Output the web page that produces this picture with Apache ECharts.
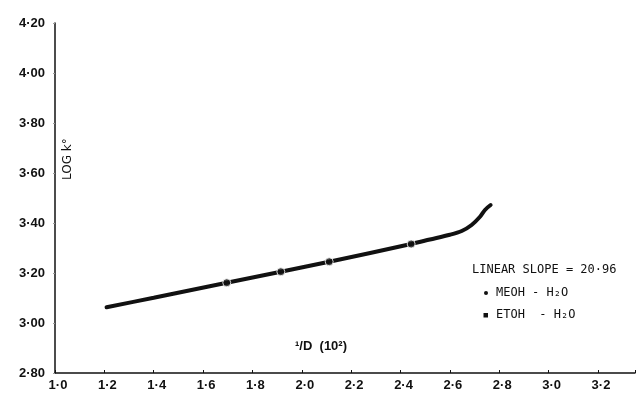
<!DOCTYPE html>
<html>
<head>
<meta charset="utf-8">
<script src="https://cdn.jsdelivr.net/npm/echarts@6/dist/echarts.min.js"></script>
<style>
html,body{margin:0;padding:0;background:#fff;}
#chart{width:638px;height:396px;}
</style>
</head>
<body>
<div id="chart"></div>
<script>
// Tick labels
var xTickLabels = ['1·0','1·2','1·4','1·6','1·8','2·0','2·2','2·4','2·6','2·8','3·0','3·2'];
var yTickLabels = ['2·80','3·00','3·20','3·40','3·60','3·80','4·00','4·20'];
// Curve (1/D x10^2 vs log k)
var curveX = [1.209, 1.40, 1.696, 1.915, 2.111, 2.443, 2.519, 2.600, 2.648, 2.688, 2.722, 2.742, 2.765];
var curveY = [3.063, 3.101, 3.161, 3.205, 3.245, 3.316, 3.334, 3.353, 3.368, 3.392, 3.425, 3.452, 3.472];
// Plotted experimental points
var pointX = [1.696, 1.915, 2.111, 2.443];
var pointY = [3.161, 3.205, 3.245, 3.316];
// Texts
var xName = '¹/D  (10²)';
var yName = 'LOG k°';
var slopeText = 'LINEAR SLOPE = 20·96';
var legendNames = ['MEOH - H₂O', 'ETOH  - H₂O'];

function pairs(xs, ys){ var out=[]; for (var i=0;i<xs.length;i++) out.push([xs[i], ys[i]]); return out; }
function lab(arr, start, step){
  return function(v){
    var idx = Math.round((v - start) / step);
    if (Math.abs(v - (start + idx*step)) < 1e-6 && idx >= 0 && idx < arr.length) return arr[idx];
    return '';
  };
}

var chart = echarts.init(document.getElementById('chart'), null, {renderer:'canvas'});
var font = 'Liberation Sans';
chart.setOption({
  animation:false,
  backgroundColor:'#fff',
  grid:{left:55, right:3, top:23, bottom:23, containLabel:false},
  xAxis:{
    type:'value', min:1.0, max:3.35, interval:0.2,
    axisLine:{show:true, lineStyle:{color:'#111', width:1.5}},
    axisTick:{show:true, inside:true, length:3, lineStyle:{color:'#111', width:1}},
    splitLine:{show:false},
    axisLabel:{formatter:lab(xTickLabels, 1.0, 0.2), color:'#111', fontFamily:font, fontWeight:'bold', fontSize:13, margin:6, padding:[0,0,0,6]}
  },
  yAxis:{
    type:'value', min:2.8, max:4.2, interval:0.2,
    axisLine:{show:true, lineStyle:{color:'#111', width:1.5}},
    axisTick:{show:true, inside:false, length:2, lineStyle:{color:'#999', width:1}},
    splitLine:{show:false},
    axisLabel:{formatter:lab(yTickLabels, 2.8, 0.2), color:'#111', fontFamily:font, fontWeight:'bold', fontSize:13, margin:10}
  },
  series:[
    {type:'line', data:pairs(curveX, curveY), smooth:0.3, showSymbol:false, symbol:'none',
     lineStyle:{color:'#111', width:4, cap:'round'}, z:2},
    {type:'scatter', data:pairs(pointX, pointY), symbol:'circle', symbolSize:8,
     itemStyle:{color:'#111', borderColor:'#fff', borderWidth:1}, z:3}
  ],
  graphic:[
    {type:'text', left:295, top:340, style:{text:xName, font:'bold 13px "Liberation Sans"', fill:'#111'}},
    {type:'text', x:62, y:180, rotation:Math.PI/2, style:{text:yName, font:'12px "DejaVu Sans"', fill:'#111'}},
    {type:'text', left:472, top:264, style:{text:slopeText, font:'12px "DejaVu Sans Mono"', fill:'#111'}},
    {type:'circle', shape:{cx:486, cy:293, r:2}, style:{fill:'#111'}},
    {type:'text', left:496, top:287, style:{text:legendNames[0], font:'12px "DejaVu Sans Mono"', fill:'#111'}},
    {type:'rect', shape:{x:483.5, y:313, width:4.5, height:4.5}, style:{fill:'#111'}},
    {type:'text', left:496, top:309, style:{text:legendNames[1], font:'12px "DejaVu Sans Mono"', fill:'#111'}}
  ]
});
</script>
</body>
</html>
